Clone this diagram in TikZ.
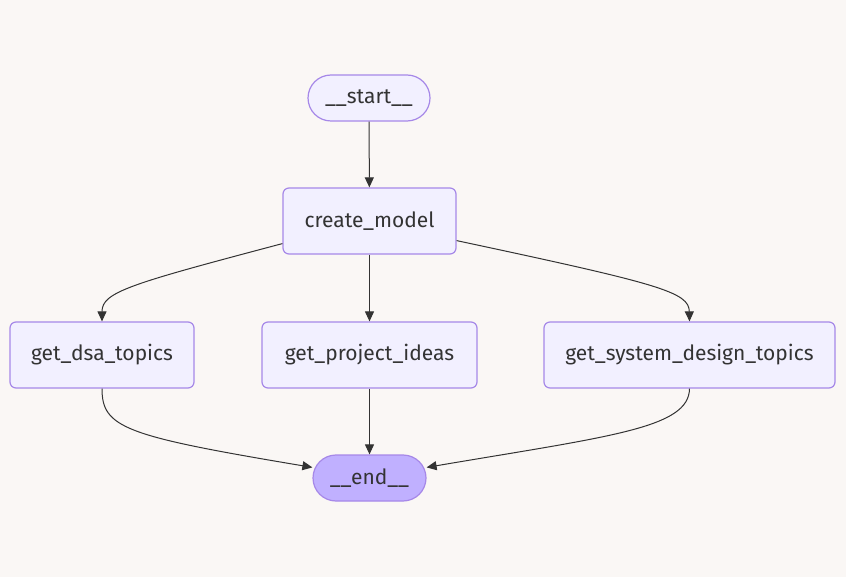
\documentclass[tikz,border=0pt]{standalone}
\usepackage{fontspec}
\setmainfont{Fira Sans}
\usetikzlibrary{arrows.meta}
\definecolor{bg}{HTML}{FAF7F5}
\definecolor{nfill}{HTML}{F2F0FF}
\definecolor{nstroke}{HTML}{A688E8}
\definecolor{efill}{HTML}{C0B0FF}
\definecolor{txt}{HTML}{333333}
\tikzset{
  box/.style={draw=nstroke, fill=nfill, line width=1.2pt, rounded corners=6pt, minimum height=66pt, text=txt, font=\fontsize{21}{24}\selectfont, inner sep=0pt},
  pill/.style={draw=nstroke, line width=1.2pt, rounded corners=23pt, minimum height=46pt, text=txt, font=\fontsize{21}{24}\selectfont, inner sep=0pt},
  edge/.style={draw=txt, line width=1pt, -{Triangle[length=10pt,width=9pt]}}
}
\begin{document}
\begin{tikzpicture}[x=1pt,y=-1pt]
\fill[bg] (0,0) rectangle (846,577);
\useasboundingbox (0,0) rectangle (846,577);
\node[pill, fill=nfill, minimum width=122pt] (start) at (369,98) {\_\_start\_\_};
\node[box, minimum width=173pt] (cm) at (369.5,221) {create\_model};
\node[box, minimum width=184pt] (dsa) at (102,355) {get\_dsa\_topics};
\node[box, minimum width=215pt] (proj) at (369.5,355) {get\_project\_ideas};
\node[box, minimum width=291pt] (sys) at (689.5,355) {get\_system\_design\_topics};
\node[pill, fill=efill, minimum width=113pt] (end) at (369.5,478) {\_\_end\_\_};
\draw[edge] (start) -- (cm);
\draw[edge] (cm) -- (proj);
\draw[edge] ([yshift=11pt]cm.south west) .. controls (130,284) and (102,292) .. (dsa.north);
\draw[edge] ([yshift=14pt]cm.south east) .. controls (660,284) and (689,292) .. (sys.north);
\draw[edge] (proj) -- (end);
\draw[edge] (dsa.south) .. controls (102,428) and (125,436) .. ([yshift=-13pt]end.north west);
\draw[edge] (sys.south) .. controls (689,428) and (612,436) .. ([yshift=-13pt]end.north east);
\end{tikzpicture}
\end{document}
